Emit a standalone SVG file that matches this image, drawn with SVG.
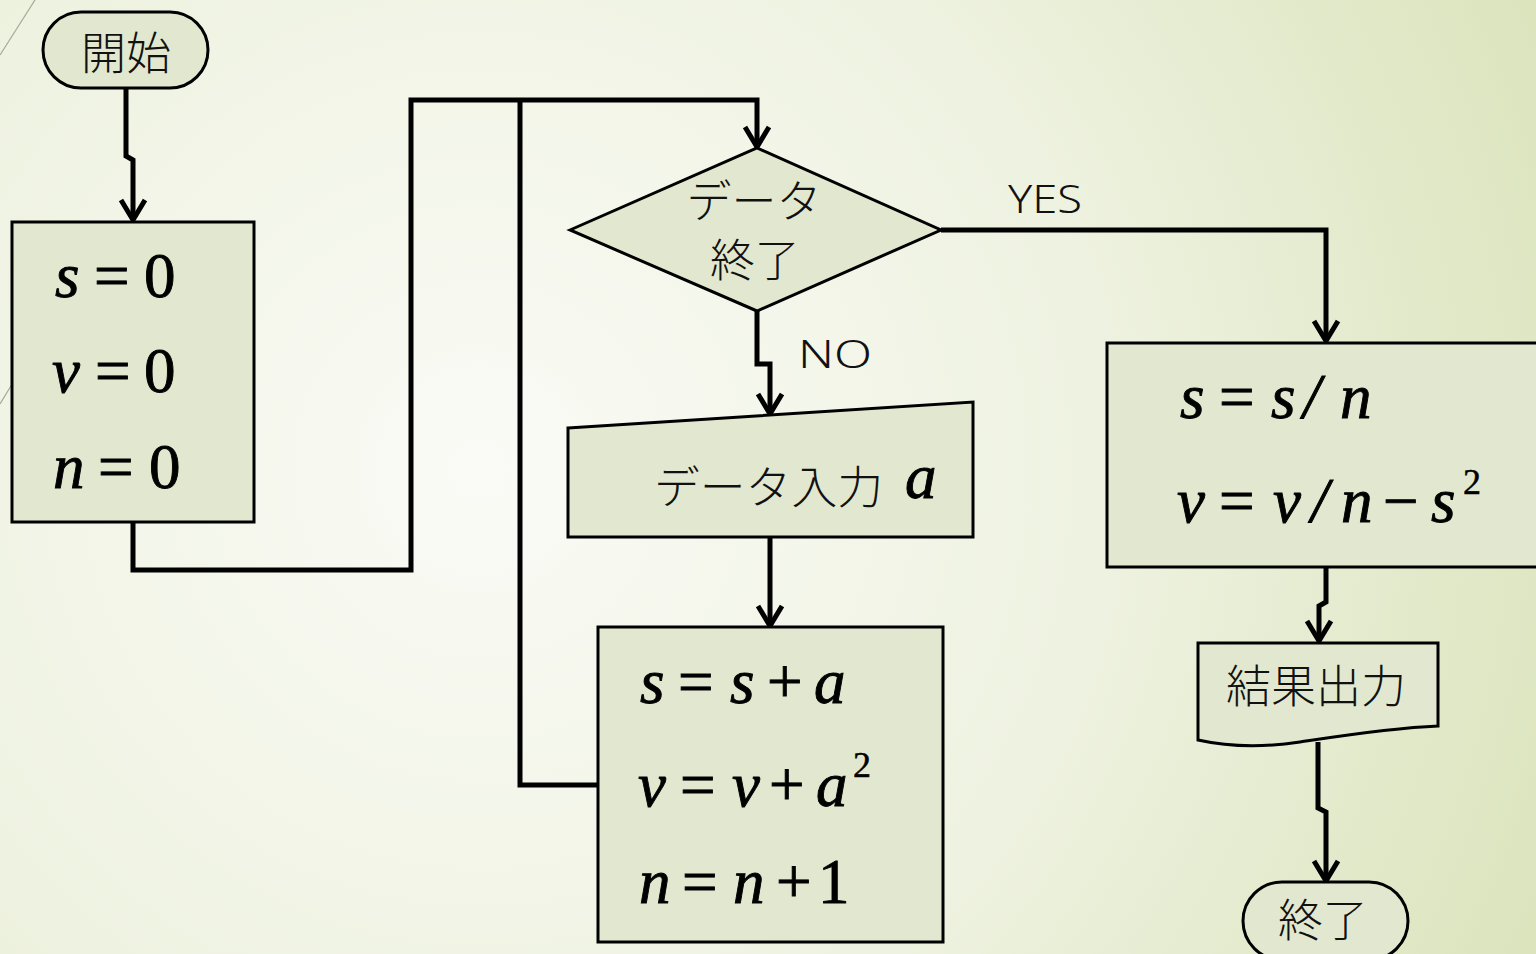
<svg xmlns="http://www.w3.org/2000/svg" width="1536" height="954" viewBox="0 0 1536 954">
<defs>
<radialGradient id="bg" cx="480" cy="470" r="1150" gradientUnits="userSpaceOnUse">
<stop offset="0" stop-color="#fafbf6"/>
<stop offset="0.55" stop-color="#eef2e0"/>
<stop offset="1" stop-color="#dbe4bd"/>
</radialGradient>
<marker id="arr" markerUnits="userSpaceOnUse" markerWidth="32" markerHeight="32" refX="26" refY="16" orient="auto" viewBox="0 0 32 32">
<path d="M6,4 L26,16 L6,28" fill="none" stroke="#000" stroke-width="5" stroke-linecap="butt" stroke-linejoin="miter"/>
</marker>
<style>
.node{fill:#e2e8cf;stroke:#000;stroke-width:3}
.conn{fill:none;stroke:#000;stroke-width:5}
.jp{font-family:"Noto Sans CJK JP","Noto Sans",sans-serif;font-size:45px;font-weight:300;fill:#111}
.lbl{font-family:"Noto Sans","Open Sans",sans-serif;font-size:39px;font-weight:300;fill:#111}
.m{font-family:"Liberation Serif","Times New Roman",serif;font-size:63px;fill:#000;stroke:#000;stroke-width:0.9}
.i{font-style:italic}
.sup{font-size:36px;stroke-width:0.5}
</style>
</defs>
<rect width="1536" height="954" fill="url(#bg)"/>
<line x1="35" y1="0" x2="0" y2="55" stroke="#a6a894" stroke-width="1.2"/>
<line x1="14" y1="381" x2="0" y2="404" stroke="#a6a894" stroke-width="1.2"/>

<g id="connectors">
<path class="conn" d="M126,88 V156 L133,160 V220" marker-end="url(#arr)"/>
<path class="conn" d="M133,522 V570 H411 V100 H757 V147" marker-end="url(#arr)"/>
<path class="conn" d="M598,785 H520 V100"/>
<path class="conn" d="M757,311 V364 H770 V414" marker-end="url(#arr)"/>
<path class="conn" d="M770,537 V626" marker-end="url(#arr)"/>
<path class="conn" d="M941,230 H1326 V341" marker-end="url(#arr)"/>
<path class="conn" d="M1326,567 V602 L1319,606 V641" marker-end="url(#arr)"/>
<path class="conn" d="M1318,742 V808 L1326,812 V881" marker-end="url(#arr)"/>
<text class="lbl" x="1008" y="213" textLength="74" lengthAdjust="spacingAndGlyphs">YES</text>
<text class="lbl" x="798" y="368" textLength="74" lengthAdjust="spacingAndGlyphs">NO</text>
</g>

<g id="start">
<rect class="node" x="43" y="12" width="165" height="76" rx="38"/>
<text class="jp" x="126" y="50" text-anchor="middle" dominant-baseline="central">開始</text>
</g>

<g id="init">
<rect class="node" x="12" y="222" width="242" height="300"/>
<text class="m"><tspan class="i" x="55" y="297">s</tspan><tspan x="94" y="297">=</tspan><tspan x="144" y="297">0</tspan></text>
<text class="m"><tspan class="i" x="52" y="392">v</tspan><tspan x="95" y="392">=</tspan><tspan x="144" y="392">0</tspan></text>
<text class="m"><tspan class="i" x="53" y="488">n</tspan><tspan x="98" y="488">=</tspan><tspan x="149" y="488">0</tspan></text>
</g>

<g id="decision">
<polygon class="node" points="570,230 757,148 941,230 757,311"/>
<text class="jp" x="754" y="198" text-anchor="middle" dominant-baseline="central">データ</text>
<text class="jp" x="755" y="257" text-anchor="middle" dominant-baseline="central">終了</text>
</g>

<g id="input">
<polygon class="node" points="568,428 973,402 973,537 568,537"/>
<text class="jp" x="654" y="484" dominant-baseline="central" textLength="229" lengthAdjust="spacingAndGlyphs">データ入力</text>
<text class="m i" x="905" y="498">a</text>
</g>

<g id="update">
<rect class="node" x="598" y="627" width="345" height="315"/>
<text class="m"><tspan class="i" x="640" y="703">s</tspan><tspan x="678" y="703">=</tspan><tspan class="i" x="730" y="703">s</tspan><tspan x="767" y="703">+</tspan><tspan class="i" x="814" y="703">a</tspan></text>
<text class="m"><tspan class="i" x="638" y="806">v</tspan><tspan x="680" y="806">=</tspan><tspan class="i" x="732" y="806">v</tspan><tspan x="769" y="806">+</tspan><tspan class="i" x="816" y="806">a</tspan><tspan class="sup" x="853" y="777">2</tspan></text>
<text class="m"><tspan class="i" x="639" y="903">n</tspan><tspan x="682" y="903">=</tspan><tspan class="i" x="733" y="903">n</tspan><tspan x="776" y="903">+</tspan><tspan x="818" y="903">1</tspan></text>
</g>

<g id="final">
<rect class="node" x="1107" y="343" width="440" height="224"/>
<text class="m"><tspan class="i" x="1180" y="418">s</tspan><tspan x="1219" y="418">=</tspan><tspan class="i" x="1271" y="418">s</tspan><tspan class="i" x="1303" y="418">/</tspan><tspan class="i" x="1340" y="418">n</tspan></text>
<text class="m"><tspan class="i" x="1177" y="522">v</tspan><tspan x="1219" y="522">=</tspan><tspan class="i" x="1273" y="522">v</tspan><tspan class="i" x="1311" y="522">/</tspan><tspan class="i" x="1341" y="522">n</tspan><tspan x="1383" y="522">−</tspan><tspan class="i" x="1431" y="522">s</tspan><tspan class="sup" x="1463" y="494">2</tspan></text>
</g>

<g id="output">
<path class="node" d="M1198,643 H1438 V726 C1390,728 1340,736 1300,742 C1260,748 1225,746 1198,740 Z"/>
<text class="jp" x="1316" y="683" text-anchor="middle" dominant-baseline="central">結果出力</text>
</g>

<g id="end">
<rect class="node" x="1243" y="882" width="165" height="78" rx="39"/>
<text class="jp" x="1323" y="917" text-anchor="middle" dominant-baseline="central">終了</text>
</g>
</svg>
